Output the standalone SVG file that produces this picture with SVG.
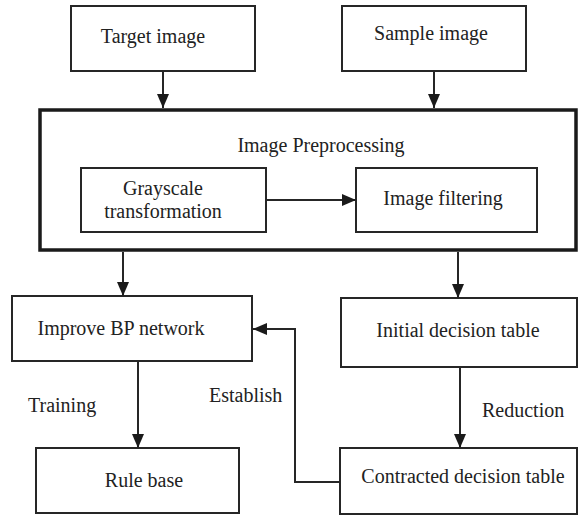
<svg xmlns="http://www.w3.org/2000/svg" width="578" height="515" viewBox="0 0 578 515" font-family="'Liberation Serif', 'DejaVu Serif', 'Times New Roman', serif">
<defs>
<style>
.box{fill:#fff;stroke:#262626;stroke-width:2}
.big{fill:#fff;stroke:#1a1a1a;stroke-width:3.5}
.t{font-family:'Liberation Serif','DejaVu Serif',serif;font-size:20px;fill:#222}
.m{text-anchor:middle}
.c{fill:none;stroke:#262626;stroke-width:2}
</style>
<marker id="ah" markerWidth="14" markerHeight="12" refX="14" refY="6" orient="auto" markerUnits="userSpaceOnUse">
<path d="M0,0 L14,6 L0,12 Z" fill="#1a1a1a"/>
</marker>
</defs>
<rect width="578" height="515" fill="#fff"/>
<g id="preprocessing">
<rect class="big" x="40" y="110" width="536" height="140"/>
<text class="t m" x="321" y="152">Image Preprocessing</text>
</g>
<g id="target">
<rect class="box" x="71" y="6" width="184" height="65"/>
<text class="t m" x="153" y="43">Target image</text>
</g>
<g id="sample">
<rect class="box" x="342" y="6" width="184" height="65"/>
<text class="t m" x="431" y="40">Sample image</text>
</g>
<g id="grayscale">
<rect class="box" x="81" y="168" width="185" height="64"/>
<text class="t m" x="163" y="195">Grayscale</text>
<text class="t m" x="163" y="218">transformation</text>
</g>
<g id="filtering">
<rect class="box" x="356" y="168" width="181" height="64"/>
<text class="t m" x="443" y="205">Image filtering</text>
</g>
<g id="bp">
<rect class="box" x="12" y="296" width="240" height="65"/>
<text class="t m" x="121" y="335">Improve BP network</text>
</g>
<g id="initial">
<rect class="box" x="341" y="298" width="236" height="69"/>
<text class="t m" x="458" y="337">Initial decision table</text>
</g>
<g id="rulebase">
<rect class="box" x="36" y="448" width="203" height="65"/>
<text class="t m" x="144" y="487">Rule base</text>
</g>
<g id="contracted">
<rect class="box" x="340" y="448" width="237" height="66"/>
<text class="t m" x="463" y="483">Contracted decision table</text>
</g>
<g id="connectors">
<line class="c" x1="163" y1="71" x2="163" y2="108" marker-end="url(#ah)"/>
<line class="c" x1="434" y1="71" x2="434" y2="108" marker-end="url(#ah)"/>
<line class="c" x1="266" y1="200" x2="356" y2="200" marker-end="url(#ah)"/>
<line class="c" x1="123" y1="252" x2="123" y2="296" marker-end="url(#ah)"/>
<line class="c" x1="458" y1="252" x2="458" y2="298" marker-end="url(#ah)"/>
<line class="c" x1="138" y1="361" x2="138" y2="448" marker-end="url(#ah)"/>
<line class="c" x1="460" y1="367" x2="460" y2="448" marker-end="url(#ah)"/>
<polyline class="c" points="340,482 295,482 295,329 253,329" marker-end="url(#ah)"/>
<text class="t" x="28" y="412">Training</text>
<text class="t" x="209" y="402">Establish</text>
<text class="t" x="482" y="417">Reduction</text>
</g>
</svg>
